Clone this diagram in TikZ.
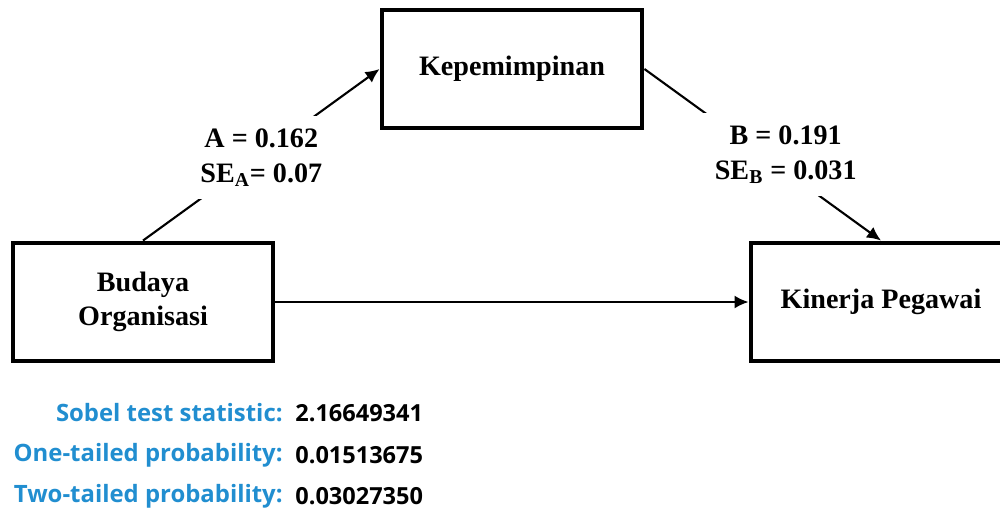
\documentclass[tikz,border=0pt]{standalone}
\usepackage{fontspec}
\setmainfont{Liberation Serif}
\newfontfamily\sobelfont{Open Sans}
\usetikzlibrary{arrows.meta}
\definecolor{sobelblue}{RGB}{33,142,208}
\tikzset{
  box/.style={draw, line width=2.8pt, minimum width=5.2cm, minimum height=2.36cm,
    align=center, font=\fontsize{16}{19}\selectfont\bfseries},
  link/.style={line width=1.2pt, -{Latex[length=0.28cm, width=0.26cm]}},
  coef/.style={fill=white, align=center, inner sep=7pt,
    font=\fontsize{16}{20}\selectfont\bfseries},
  sobkey/.style={anchor=east, inner sep=0pt, text=sobelblue, font=\sobelfont\fontsize{13.6}{16}\selectfont\bfseries},
  sobval/.style={anchor=west, inner sep=0pt, font=\sobelfont\fontsize{13.4}{16}\selectfont\bfseries}
}
\begin{document}
\begin{tikzpicture}[x=0.02cm, y=-0.02cm]
\useasboundingbox (0,0) rectangle (1000,514);
\clip (0,0) rectangle (1000,514);
\node[box] (kp) at (512,69) {Kepemimpinan};
\node[box] (bo) at (143,302) {Budaya\\Organisasi};
\node[box] (kj) at (881,302) {Kinerja Pegawai};
\draw[link] (bo.north) -- node[coef, yshift=-0.06cm] {A = 0.162\\SE\textsubscript{A}= 0.07} (kp.west);
\draw[link] (kp.east) -- node[coef, xshift=0.46cm] {B = 0.191\\SE$_{\mathbf{B}}$ = 0.031} (kj.north);
\draw[link] (bo.east) -- (kj.west);
% sobel test
\node[sobkey] (k1) at (283,413) {Sobel test statistic:};
\node[sobkey] (k2) at (283,455) {One-tailed probability:};
\node[sobkey] (k3) at (283,496) {Two-tailed probability:};
\node[sobval] (v1) at (295,413) {2.16649341};
\node[sobval] (v2) at (295,455) {0.01513675};
\node[sobval] (v3) at (295,496) {0.03027350};
\end{tikzpicture}
\end{document}
